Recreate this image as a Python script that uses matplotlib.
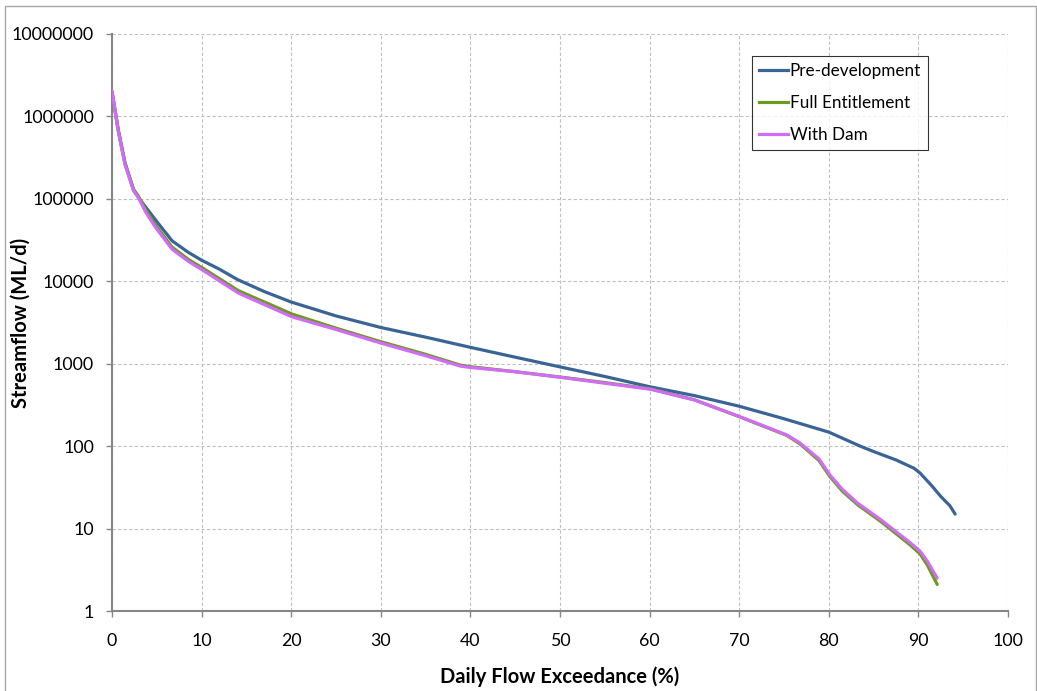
import matplotlib.pyplot as plt
from matplotlib.lines import Line2D

# Flow duration curves
pct_pre = [0, 0.7, 1.45, 2.4, 3.0, 3.7, 5, 6.7, 8.5, 10, 12, 14, 17, 20, 25, 30, 35, 40,
           45, 50, 55, 60, 65, 70, 75, 80, 83.5, 85, 87.5, 89.5, 90.2, 91.5, 92.5, 93.5, 94.1]
pre_dev = [2.0e6, 6.9e5, 2.75e5, 1.3e5, 1.02e5, 8.1e4, 5.3e4, 3.1e4, 2.25e4, 1.8e4, 1.4e4,
           1.05e4, 7.5e3, 5.6e3, 3.8e3, 2.75e3, 2.1e3, 1.58e3, 1.2e3, 915, 700, 526, 410,
           305, 215, 148, 100, 86, 68, 54, 47, 33, 24.5, 19, 15]

pct_dam = [0, 0.7, 1.45, 2.4, 2.9, 3.8, 4.8, 6.7, 8.5, 10.1, 14.1, 20.1, 25, 30, 35, 38.9, 40,
           45, 50, 55, 60.1, 65, 70, 75.3, 76.8, 78.9, 80.1, 81.5, 83.2, 85.8, 89.1, 90.2, 91, 92.1]
full_ent = [2.0e6, 6.7e5, 2.65e5, 1.3e5, 1.1e5, 7.3e4, 4.9e4, 2.6e4, 1.85e4, 1.45e4, 7.7e3,
            4.0e3, 2.7e3, 1.85e3, 1.3e3, 960, 920, 800, 690, 590, 495, 365, 228, 135, 106,
            67, 43, 28.5, 19.5, 12.2, 6.3, 4.9, 3.6, 2.1]
with_dam = [2.0e6, 6.6e5, 2.6e5, 1.25e5, 1.05e5, 6.8e4, 4.6e4, 2.45e4, 1.75e4, 1.37e4, 7.2e3,
            3.7e3, 2.6e3, 1.78e3, 1.25e3, 935, 900, 800, 684, 580, 490, 363, 229, 137, 109,
            70, 45, 30, 20.4, 12.8, 6.7, 5.3, 4.0, 2.5]

y_ticks = [1, 10, 100, 1000, 10000, 100000, 1000000, 10000000]
x_ticks = list(range(0, 101, 10))

plt.rcParams['font.family'] = ['Lato', 'DejaVu Sans']

fig = plt.figure(figsize=(10.37, 6.91), dpi=100)
ax = fig.add_axes([112 / 1037, 1 - 611 / 691, (1008 - 112) / 1037, (611 - 34) / 691])

ax.plot(pct_pre, pre_dev, color='#3b6496', lw=2.3, solid_joinstyle='round',
        solid_capstyle='round', label='Pre-development', zorder=3)
ax.plot(pct_dam, full_ent, color='#6b9a1e', lw=2.3, solid_joinstyle='round',
        solid_capstyle='round', label='Full Entitlement', zorder=4)
ax.plot(pct_dam, with_dam, color='#d06cf6', lw=2.3, solid_joinstyle='round',
        solid_capstyle='round', label='With Dam', zorder=5)

ax.set_yscale('log')
ax.set_ylim(1, 1e7)
ax.set_xlim(0, 100)
ax.set_yticks(y_ticks)
ax.set_yticklabels([str(v) for v in y_ticks])
ax.minorticks_off()
ax.set_xticks(x_ticks)

ax.grid(True, which='major', color='#c0c0c0', linestyle=(0, (3, 2)), lw=0.8)
ax.set_axisbelow(True)
for side in ['top', 'right']:
    ax.spines[side].set_visible(False)
for side in ['left', 'bottom']:
    ax.spines[side].set_color('#868686')
    ax.spines[side].set_linewidth(1.5)
ax.tick_params(axis='y', length=4, width=1, color='#868686', pad=9, labelsize=12.8)
ax.tick_params(axis='x', length=4, width=1, color='#868686', pad=12, labelsize=12.8)

ax.set_xlabel('Daily Flow Exceedance (%)', fontsize=14.5, fontweight='bold')
ax.xaxis.label.set_verticalalignment('baseline')
ax.xaxis.set_label_coords(0.5, (611 - 683) / 577)
ax.set_ylabel('Streamflow (ML/d)', fontsize=14.5, fontweight='bold')
ax.yaxis.label.set_verticalalignment('center')
ax.yaxis.set_label_coords((21 - 112) / 896, 0.5)

handles = [Line2D([], [], color='#3b6496', lw=2.3),
           Line2D([], [], color='#6b9a1e', lw=2.3),
           Line2D([], [], color='#d06cf6', lw=2.3)]
leg = fig.legend(handles, ['Pre-development', 'Full Entitlement', 'With Dam'],
                 loc='upper left', bbox_to_anchor=(752 / 1037, 1 - 56 / 691),
                 borderaxespad=0, fontsize=12.3, frameon=True, fancybox=False,
                 handlelength=1.7, handletextpad=0.1, labelspacing=0.95,
                 borderpad=0.4, edgecolor='black')
leg.get_frame().set_linewidth(0.8)

# light chart-area border
fig.add_artist(plt.Rectangle((5 / 1037, -0.01), (1036 - 5) / 1037, 1 - 6 / 691 + 0.01,
                             transform=fig.transFigure, fill=False,
                             edgecolor='#a6a6a6', lw=1))

fig.savefig('out.png', dpi=100)
